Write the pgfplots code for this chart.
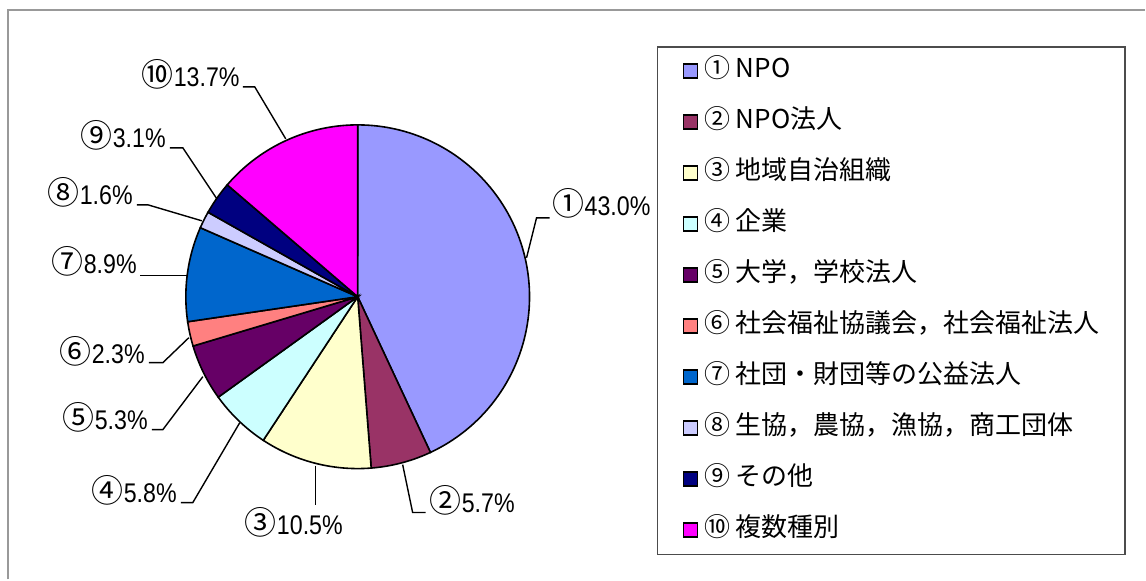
\documentclass[border=0pt]{standalone}
\usepackage{pgfplots}
\pgfplotsset{compat=1.18}
\usepackage{fontspec}
\usepackage{graphicx}
\setmainfont{Liberation Sans}
\newfontfamily\jp{Noto Sans CJK JP}
\definecolor{c1}{HTML}{9999FF}
\definecolor{c2}{HTML}{993366}
\definecolor{c3}{HTML}{FFFFCC}
\definecolor{c4}{HTML}{CCFFFF}
\definecolor{c5}{HTML}{660066}
\definecolor{c6}{HTML}{FF8080}
\definecolor{c7}{HTML}{0066CC}
\definecolor{c8}{HTML}{CCCCFF}
\definecolor{c9}{HTML}{000080}
\definecolor{c10}{HTML}{FF00FF}
\newcommand\lbl[1]{\scalebox{0.86}[1]{\fontsize{27bp}{27bp}\selectfont #1}}
\newcommand\cnum[1]{{\jp\fontsize{32bp}{32bp}\selectfont #1}}
% slice: start and end as cumulative percentages (total 99.9)
\newcommand\slice[3]{\addplot[fill=#3, draw=black, line width=1.6bp,
  domain={90-360*#2/99.9}:{90-360*#1/99.9}, samples=90, variable=\t]
  ({358+172*cos(\t)},{297-172*sin(\t)}) -- (axis cs:358,297) -- cycle;}
\begin{document}
\begin{tikzpicture}
\begin{axis}[
  width=1146bp, height=580bp, scale only axis,
  xmin=0, xmax=1146, ymin=0, ymax=580, y dir=reverse,
  hide axis, clip=false,
  legend style={at={(axis cs:683,58.5)}, anchor=north west, draw=none, fill=none,
    inner sep=0pt, row sep=26bp, column sep=6bp,
    nodes={inner xsep=0pt, inner ysep=0pt, text height=19bp, text depth=6bp},
    font=\jp\fontsize{26bp}{26bp}\selectfont},
  legend cell align=left,
  legend image code/.code={\draw[#1] (0bp,-7bp) rectangle (14bp,7bp);},
]
\path (axis cs:0,0) rectangle (axis cs:1146,580);
\draw[color=black!40, line width=2bp] (axis cs:8,580) -- (axis cs:8,10) -- (axis cs:1146,10);
\draw[color=black!70, line width=1.5bp] (axis cs:658,47) rectangle (axis cs:1126,555);

% values: 43.0, 5.7, 10.5, 5.8, 5.3, 2.3, 8.9, 1.6, 3.1, 13.7 (%)
\slice{0}{43.0}{c1}    \addlegendentry{① NPO}
\slice{43.0}{48.7}{c2} \addlegendentry{② NPO法人}
\slice{48.7}{59.2}{c3} \addlegendentry{③ 地域自治組織}
\slice{59.2}{65.0}{c4} \addlegendentry{④ 企業}
\slice{65.0}{70.3}{c5} \addlegendentry{⑤ 大学，学校法人}
\slice{70.3}{72.6}{c6} \addlegendentry{⑥ 社会福祉協議会，社会福祉法人}
\slice{72.6}{81.5}{c7} \addlegendentry{⑦ 社団・財団等の公益法人}
\slice{81.5}{83.1}{c8} \addlegendentry{⑧ 生協，農協，漁協，商工団体}
\slice{83.1}{86.2}{c9} \addlegendentry{⑨ その他}
\slice{86.2}{99.9}{c10} \addlegendentry{⑩ 複数種別}

% leader lines
\addplot[black, line width=1.4bp, forget plot] coordinates {(527,258) (537,218) (550,218)};
\addplot[black, line width=1.4bp, forget plot] coordinates {(403,465) (413,513) (426,513)};
\addplot[black, line width=1.4bp, forget plot] coordinates {(316,466) (316,505)};
\addplot[black, line width=1.4bp, forget plot] coordinates {(240,423) (193,503) (181,503)};
\addplot[black, line width=1.4bp, forget plot] coordinates {(203,377) (163,430) (152,430)};
\addplot[black, line width=1.4bp, forget plot] coordinates {(189,338) (163,363) (149,363)};
\addplot[black, line width=1.4bp, forget plot] coordinates {(187,276) (140,276)};
\addplot[black, line width=1.4bp, forget plot] coordinates {(202,221) (148,205) (137,205)};
\addplot[black, line width=1.4bp, forget plot] coordinates {(217,199) (183,148) (170,148)};
\addplot[black, line width=1.4bp, forget plot] coordinates {(286,139) (255,87) (243,87)};

% labels
\node[anchor=base west, inner sep=0pt] at (axis cs:553,216) {\cnum{①}\lbl{43.0\%}};
\node[anchor=base west, inner sep=0pt] at (axis cs:430,513) {\cnum{②}\lbl{5.7\%}};
\node[anchor=base west, inner sep=0pt] at (axis cs:245,535) {\cnum{③}\lbl{10.5\%}};
\node[anchor=base east, inner sep=0pt] at (axis cs:177,503) {\cnum{④}\lbl{5.8\%}};
\node[anchor=base east, inner sep=0pt] at (axis cs:148,430) {\cnum{⑤}\lbl{5.3\%}};
\node[anchor=base east, inner sep=0pt] at (axis cs:145,364) {\cnum{⑥}\lbl{2.3\%}};
\node[anchor=base east, inner sep=0pt] at (axis cs:137,274) {\cnum{⑦}\lbl{8.9\%}};
\node[anchor=base east, inner sep=0pt] at (axis cs:133,205) {\cnum{⑧}\lbl{1.6\%}};
\node[anchor=base east, inner sep=0pt] at (axis cs:166,148) {\cnum{⑨}\lbl{3.1\%}};
\node[anchor=base east, inner sep=0pt] at (axis cs:240,87) {\cnum{⑩}\lbl{13.7\%}};
\end{axis}
\end{tikzpicture}
\end{document}
